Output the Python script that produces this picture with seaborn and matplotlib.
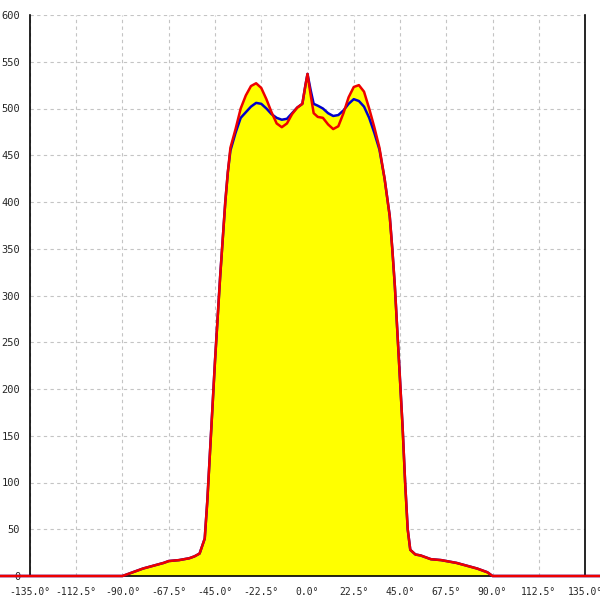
import numpy as np
import pandas as pd
import matplotlib
matplotlib.use("Agg")
import matplotlib.pyplot as plt
import seaborn as sns

angles = [-150, -90, -85, -80, -75, -70, -67.5, -62.5, -57.5, -55, -52.5, -50, -48.75, -47.5,
          -46.25, -45, -43.75, -42.5, -41.25, -40, -38.75, -37.5, -35, -32.5, -30, -27.5, -25,
          -22.5, -20, -17.5, -15, -12.5, -10, -7.5, -5, -2.5, -1, 0, 1.5, 3, 5, 7.5, 10, 12.5,
          15, 17.5, 20, 22.5, 25, 27.5, 30, 32.5, 35, 37.5, 40, 41.25, 42.5, 43.75, 45, 46.25,
          47.5, 48.75, 50, 52.5, 55, 60, 65, 67.5, 72.5, 77.5, 82.5, 87.5, 90, 150]
blue = [0, 0, 4, 8, 11, 14, 16, 17, 19, 21, 24, 40, 80, 130,
        180, 230, 275, 320, 360, 400, 432, 455, 474, 490, 496, 502, 506,
        505, 500, 494, 490, 488, 489, 495, 501, 505, 525, 537, 520, 505, 503, 500, 495, 492,
        493, 498, 505, 510, 508, 502, 490, 474, 456, 425, 385, 350, 310, 260, 210, 160,
        100, 50, 28, 23, 22, 18, 17, 16, 14, 11, 8, 4, 0, 0]
red = [0, 0, 4, 8, 11, 14, 16, 17, 19, 21, 24, 40, 80, 130,
       180, 230, 275, 320, 360, 400, 432, 458, 478, 500, 514, 524, 527,
       522, 510, 496, 484, 480, 484, 494, 501, 505, 525, 537, 515, 495, 491, 490, 483, 478,
       481, 495, 512, 523, 525, 518, 500, 480, 458, 425, 385, 350, 310, 260, 210, 160,
       100, 50, 28, 23, 22, 18, 17, 16, 14, 11, 8, 4, 0, 0]
xticks = [-135, -112.5, -90, -67.5, -45, -22.5, 0, 22.5, 45, 67.5, 90, 112.5, 135]
yticks = list(range(0, 601, 50))

df = pd.DataFrame({"angle": angles, "blue": blue, "red": red})

sns.set_style("white")
plt.rcParams["font.family"] = ["DejaVu Sans Mono", "DejaVu Sans"]

fig = plt.figure(figsize=(6, 6), dpi=100)
ax = fig.add_axes([30/600, 24/600, 555/600, 561/600])

ax.fill_between(df["angle"], 0, np.maximum(df["blue"], df["red"]), color="#ffff00", lw=0, zorder=1)
sns.lineplot(data=df, x="angle", y="blue", ax=ax, color="#0000cc", lw=1.8, zorder=5, sort=False)
sns.lineplot(data=df, x="angle", y="red", ax=ax, color="#ee0000", lw=1.8, zorder=6, sort=False)
for ln in ax.lines:
    ln.set_clip_on(False)

ax.set_xlim(-135, 135)
ax.set_ylim(0, 600)
ax.set_xticks(xticks)
ax.set_xticklabels([f"{t:.1f}°" for t in xticks], fontsize=7)
ax.set_yticks(yticks)
ax.set_yticklabels([str(t) for t in yticks], fontsize=7.5)
ax.tick_params(axis="y", direction="inout", length=10, width=1, pad=2)
ax.tick_params(axis="x", direction="out", length=5, width=1, pad=3)
ax.grid(True, color="#c4c4c4", linestyle=(0, (3, 3)), lw=0.8)
ax.set_axisbelow(True)
ax.spines["top"].set_visible(False)
for s in ["left", "right", "bottom"]:
    ax.spines[s].set_color("black")
    ax.spines[s].set_linewidth(1.2)
ax.set_xlabel("")
ax.set_ylabel("")
for lbl in ax.get_yticklabels():
    lbl.set_zorder(0)

fig.savefig("out.png", dpi=100)
